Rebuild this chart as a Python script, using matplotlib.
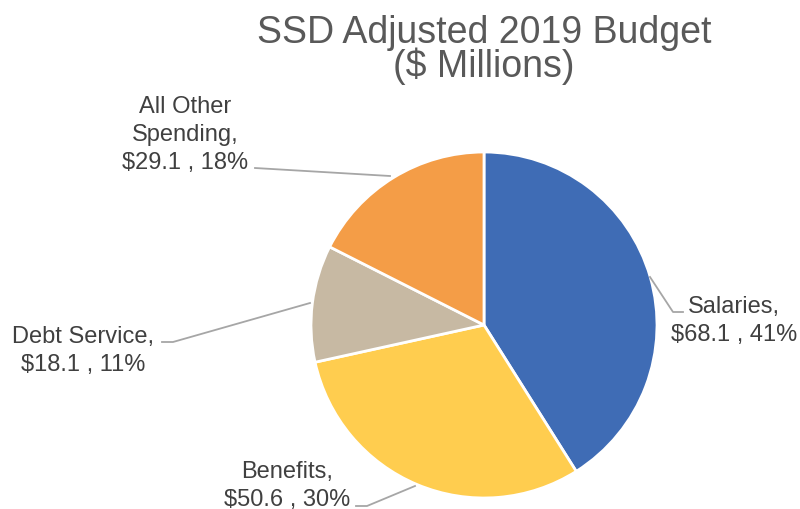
import matplotlib.pyplot as plt

plt.rcParams['font.family'] = ['Liberation Sans', 'DejaVu Sans']

categories = ['Salaries', 'Benefits', 'Debt Service', 'All Other Spending']
values = [68.1, 50.6, 18.1, 29.1]
pct_labels = [41, 30, 11, 18]
colors = ['#3F6CB5', '#FFCD4F', '#C7B9A3', '#F49D47']

fig = plt.figure(figsize=(8, 5.1), dpi=100)
ax = fig.add_axes([0, 0, 1, 1])

# work in pixel units, origin bottom-left
ax.pie(values, colors=colors, startangle=90, counterclock=False,
       center=(484, 184), radius=173, frame=True,
       wedgeprops={'edgecolor': 'white', 'linewidth': 2})
ax.set_xlim(0, 800)
ax.set_ylim(0, 510)
ax.set_aspect('equal')
ax.axis('off')

H = 510
# x centre and first baseline of each label, then leader line points
label_pos = [(734, 313), (287, 478), (83, 343), (185, 113)]
leaders = [
    [(683, 313), (673, 313), (650, 278)],
    [(356, 507), (367, 507), (415, 487)],
    [(162, 343), (173, 343), (310, 304)],
    [(255, 169), (390, 177)],
]

for i, (cat, v, p) in enumerate(zip(categories, values, pct_labels)):
    if cat == 'All Other Spending':
        lines = ['All Other', 'Spending,']
    else:
        lines = [cat + ',']
    lines.append(f'${v} , {p}%')
    x, y0 = label_pos[i]
    for k, line in enumerate(lines):
        ax.text(x, H - (y0 + 28 * k), line, ha='center', va='baseline',
                fontsize=17, color='#404040')
    pts = leaders[i]
    ax.plot([q[0] for q in pts], [H - q[1] for q in pts], color='#A6A6A6', lw=1.3)

ax.text(484, H - 43, 'SSD Adjusted 2019 Budget', ha='center', va='baseline',
        fontsize=27, color='#595959')
ax.text(484, H - 77, '($ Millions)', ha='center', va='baseline',
        fontsize=27, color='#595959')

plt.savefig('out.png', dpi=100)
